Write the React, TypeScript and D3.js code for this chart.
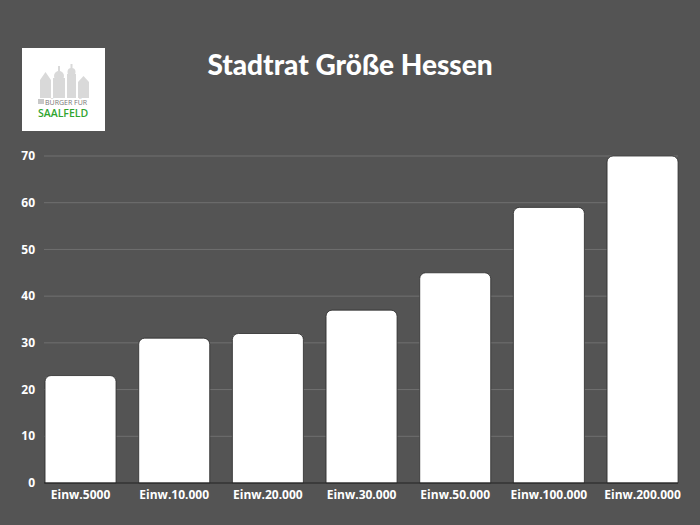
import React from "react";
import * as d3 from "d3";

const categories = ["Einw.5000", "Einw.10.000", "Einw.20.000", "Einw.30.000", "Einw.50.000", "Einw.100.000", "Einw.200.000"];
const values = [23, 31, 32, 37, 45, 59, 70];
const yTicks = [0, 10, 20, 30, 40, 50, 60, 70];
const title = "Stadtrat Größe Hessen";

const W = 700, H = 525;

function barPath(x: number, y: number, w: number, h: number, r: number) {
  const p = d3.path();
  p.moveTo(x, y + h);
  p.lineTo(x, y + r);
  p.arcTo(x, y, x + r, y, r);
  p.lineTo(x + w - r, y);
  p.arcTo(x + w, y, x + w, y + r, r);
  p.lineTo(x + w, y + h);
  p.closePath();
  return p.toString();
}

export default function App() {
  const x = d3.scaleBand<string>().domain(categories).range([33.8, 689.3]).paddingInner(0.242).paddingOuter(0.12);
  const y = d3.scaleLinear().domain([0, 70]).range([483, 156]);
  const font = "'Open Sans', 'Noto Sans', sans-serif";
  const last = categories[categories.length - 1];
  const gx2 = x(last)! + x.bandwidth();
  return (
    <svg width={W} height={H} style={{ position: "absolute", left: 0, top: 0, display: "block" }}>
      <rect x={0} y={0} width={W} height={H} fill="#545454" />
      <text x={350} y={75} textAnchor="middle" fill="#ffffff" fontFamily="Lato, sans-serif" fontWeight={900} fontSize={28}>{title}</text>
      {/* logo */}
      <g>
        <rect x={22} y={48} width={83} height={83} fill="#ffffff" />
        <g fill="#d9d9d9">
          <rect x={40} y={80} width={11} height={18} />
          <path d="M40,80 L45.5,72 L51,80 Z" />
          <rect x={53} y={78} width={12} height={20} />
          <circle cx={59} cy={76} r={5} />
          <rect x={58} y={66} width={2} height={6} />
          <rect x={67} y={74} width={9} height={24} />
          <circle cx={71.5} cy={72} r={4} />
          <rect x={70.5} y={64} width={2} height={6} />
          <rect x={78} y={82} width={11} height={16} />
          <path d="M78,82 L83.5,76 L89,82 Z" />
        </g>
        <rect x={38} y={99} width={6} height={5} fill="#c8c8c8" />
        <text x={45} y={104.5} fill="#777" fontFamily={font} fontSize={7}>BÜRGER FÜR</text>
        <text x={38} y={117} fill="#2fa52f" fontFamily={font} fontWeight={600} fontSize={10.5}>SAALFELD</text>
      </g>
      {yTicks.map((t) => (
        <g key={t}>
          {t > 0 && <line x1={44} x2={gx2} y1={y(t)} y2={y(t)} stroke="#707070" strokeWidth={1} />}
          <text x={35} y={y(t)} dy="0.35em" textAnchor="end" fill="#ffffff" fontFamily={font} fontWeight={700} fontSize={12}>{t}</text>
        </g>
      ))}
      {categories.map((c, i) => (
        <g key={c}>
          <path d={barPath(x(c)!, y(values[i]), x.bandwidth(), y(0) - y(values[i]), 6)} fill="#ffffff" stroke="#2a2a2a" strokeWidth={0.8} />
          <text x={x(c)! + x.bandwidth() / 2} y={499} textAnchor="middle" fill="#ffffff" fontFamily={font} fontWeight={700} fontSize={12}>{c}</text>
        </g>
      ))}
      <line x1={44} x2={gx2} y1={y(0)} y2={y(0)} stroke="#222" strokeWidth={1.2} />
    </svg>
  );
}
